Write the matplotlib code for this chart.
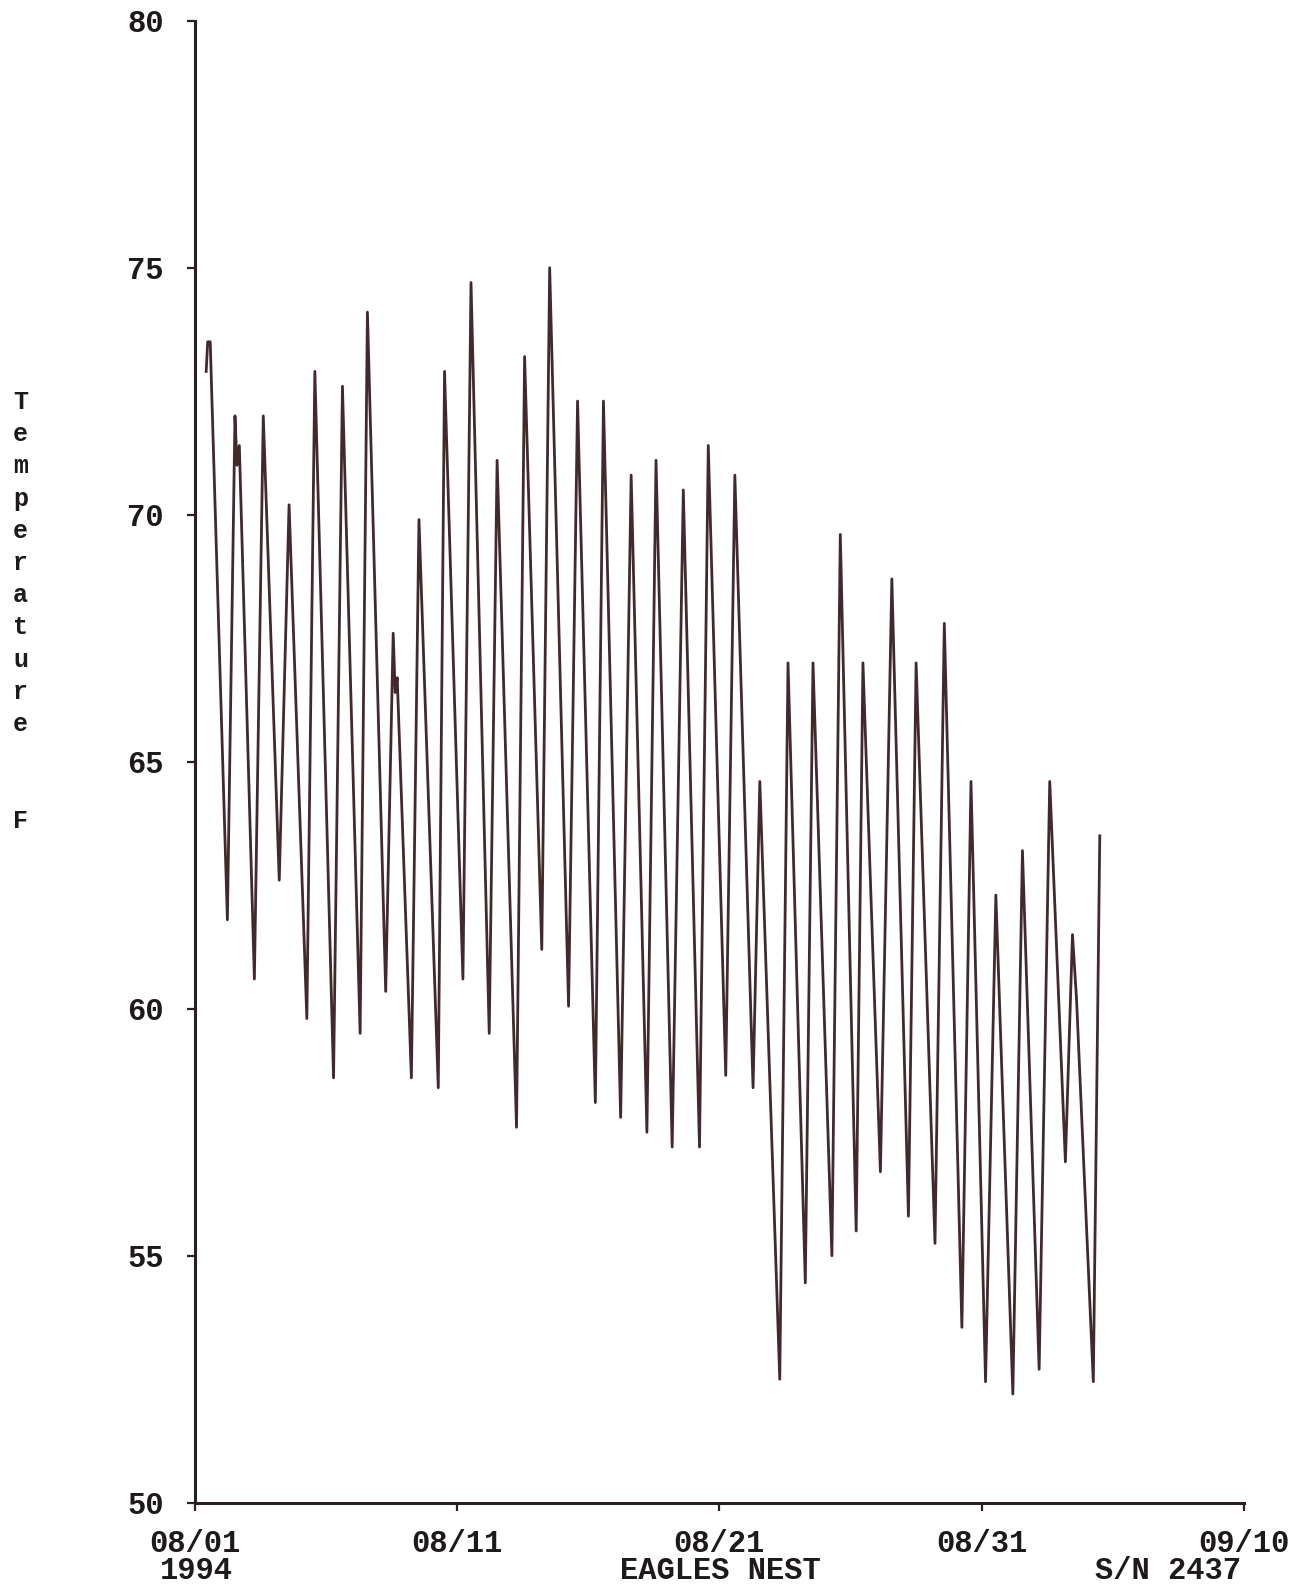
import matplotlib
matplotlib.use("Agg")
import matplotlib.pyplot as plt

# Time (days since 08/01/1994) and temperature (F) at the turning points of the trace
days = [0.443, 0.501, 0.597, 1.252, 1.541, 1.618, 1.707, 2.281, 2.620, 3.229,
        3.603, 4.281, 4.586, 5.299, 5.638, 6.312, 6.590, 7.287, 7.572, 7.649,
        7.726, 8.266, 8.555, 9.291, 9.530, 10.231, 10.539, 11.233, 11.534, 12.274,
        12.582, 13.237, 13.538, 14.258, 14.601, 15.279, 15.588, 16.243, 16.644, 17.245,
        17.592, 18.208, 18.632, 19.249, 19.584, 20.250, 20.597, 21.291, 21.549, 21.618,
        22.309, 22.624, 23.283, 23.576, 24.297, 24.617, 25.222, 25.480, 26.146, 26.582,
        27.214, 27.507, 28.227, 28.582, 29.252, 29.599, 30.154, 30.547, 31.195, 31.561,
        32.197, 32.601, 33.198, 33.468, 33.622, 34.262, 34.509]
temps = [72.9, 73.5, 73.5, 61.8, 72.0, 71.0, 71.4, 60.6, 72.0, 62.6,
         70.2, 59.8, 72.9, 58.6, 72.6, 59.5, 74.1, 60.35, 67.6, 66.4,
         66.7, 58.6, 69.9, 58.4, 72.9, 60.6, 74.7, 59.5, 71.1, 57.6,
         73.2, 61.2, 75.0, 60.05, 72.3, 58.1, 72.3, 57.8, 70.8, 57.5,
         71.1, 57.2, 70.5, 57.2, 71.4, 58.65, 70.8, 58.4, 64.6, 63.5,
         52.5, 67.0, 54.45, 67.0, 55.0, 69.6, 55.5, 67.0, 56.7, 68.7,
         55.8, 67.0, 55.25, 67.8, 53.55, 64.6, 52.45, 62.3, 52.2, 63.2,
         52.7, 64.6, 56.9, 61.5, 60.2, 52.45, 63.5]

x_ticks = [0, 10, 20, 30, 40]
x_tick_labels = ["08/01", "08/11", "08/21", "08/31", "09/10"]
y_ticks = [50, 55, 60, 65, 70, 75, 80]
footer_texts = ["1994", "EAGLES NEST", "S/N 2437"]
ylabel_word = "Temperature"
ylabel_unit = "F"

W, H = 1297, 1589
fig = plt.figure(figsize=(W / 100, H / 100), dpi=100)
fig.patch.set_facecolor("white")
ax = fig.add_axes([0.150, 0.0543, 0.809, 0.9327])

ax.plot(days, temps, color="#43282c", linewidth=2.0, solid_joinstyle="round")

ax.set_xlim(0, 40)
ax.set_ylim(50, 80)
ax.set_xticks(x_ticks)
ax.set_xticklabels(x_tick_labels)
ax.set_yticks(y_ticks)
ax.set_yticklabels([str(v) for v in y_ticks])

for s in ["top", "right"]:
    ax.spines[s].set_visible(False)
for s in ["left", "bottom"]:
    ax.spines[s].set_linewidth(2.2)
    ax.spines[s].set_color("#2a2022")

TXT = "#1e1a1a"
tick_font = dict(family="Liberation Mono", weight="bold", size=22)
ax.tick_params(axis="both", direction="out", length=6, width=1.6, color="#2a2022")
ax.tick_params(axis="y", pad=16)
ax.tick_params(axis="x", pad=13)
for lab in ax.get_xticklabels() + ax.get_yticklabels():
    lab.set_fontfamily("Liberation Mono")
    lab.set_fontweight("bold")
    lab.set_fontsize(22)
    lab.set_color(TXT)

# footer texts under x tick labels
fy = 1 - 1571 / H
fig.text(196 / W, fy, footer_texts[0], ha="center", va="center", color=TXT, **tick_font)
fig.text(720 / W, fy, footer_texts[1], ha="center", va="center", color=TXT, **tick_font)
fig.text(1168 / W, fy, footer_texts[2], ha="center", va="center", color=TXT, **tick_font)

# vertical stacked y label
label_font = dict(family="Liberation Mono", weight="bold", size=18)
y0 = 402
step = 32.2
for i, ch in enumerate(ylabel_word):
    fig.text(20.5 / W, 1 - (y0 + i * step) / H, ch, ha="center", va="center",
             color=TXT, **label_font)
fig.text(20.5 / W, 1 - (y0 + (len(ylabel_word) + 2) * step) / H, ylabel_unit,
         ha="center", va="center", color=TXT, **label_font)

fig.savefig("out.png", dpi=100, facecolor="white")
